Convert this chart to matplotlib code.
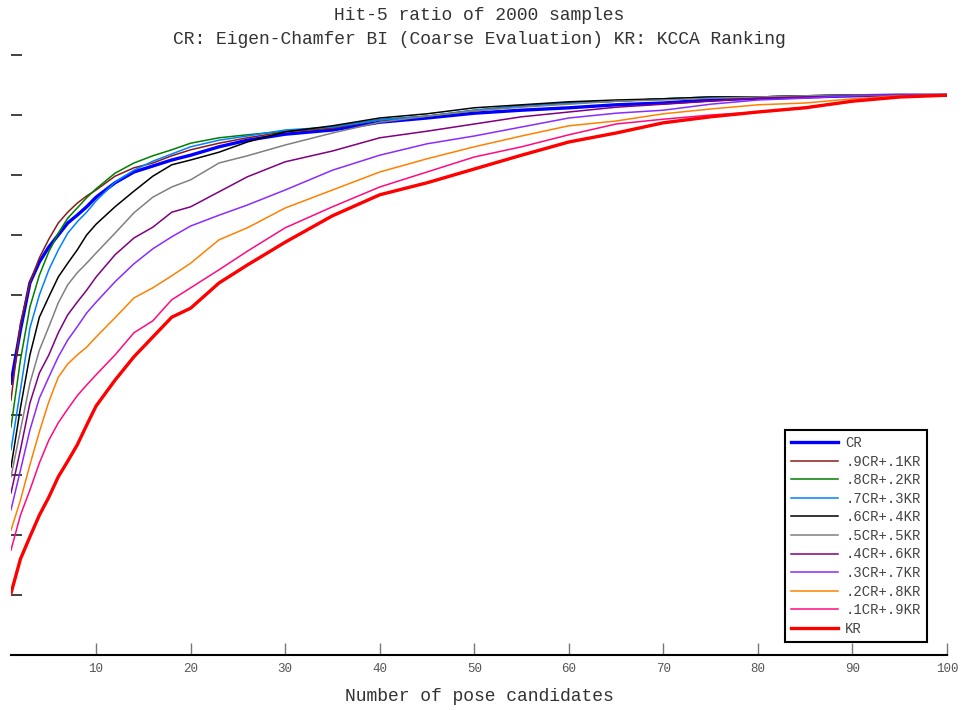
import matplotlib
matplotlib.use("Agg")
import matplotlib.pyplot as plt

# Number of pose candidates at which the curves were read
x_vals = [1, 2, 3, 4, 5, 6, 7, 8, 9, 10, 12, 14, 16, 18, 20, 23, 26, 30, 35, 40,
          45, 50, 55, 60, 65, 70, 75, 80, 85, 90, 95, 100]

cr = [0.453, 0.542, 0.620, 0.655, 0.680, 0.700, 0.720, 0.733, 0.747, 0.763, 0.787, 0.805,
      0.815, 0.825, 0.833, 0.847, 0.858, 0.868, 0.875, 0.888, 0.895, 0.903, 0.908, 0.912,
      0.917, 0.920, 0.925, 0.928, 0.930, 0.932, 0.933, 0.933]
cr9 = [0.425, 0.553, 0.620, 0.662, 0.693, 0.720, 0.738, 0.753, 0.765, 0.775, 0.798, 0.812,
       0.820, 0.832, 0.842, 0.853, 0.862, 0.872, 0.878, 0.892, 0.898, 0.907, 0.915, 0.920,
       0.923, 0.927, 0.928, 0.930, 0.932, 0.933, 0.933, 0.933]
cr8 = [0.380, 0.492, 0.580, 0.633, 0.672, 0.703, 0.728, 0.745, 0.762, 0.777, 0.803, 0.820,
       0.832, 0.842, 0.853, 0.862, 0.867, 0.873, 0.880, 0.892, 0.898, 0.908, 0.915, 0.920,
       0.923, 0.927, 0.930, 0.930, 0.932, 0.933, 0.933, 0.933]
cr7 = [0.342, 0.442, 0.545, 0.600, 0.642, 0.675, 0.703, 0.722, 0.738, 0.757, 0.788, 0.808,
       0.823, 0.835, 0.847, 0.858, 0.865, 0.875, 0.880, 0.892, 0.898, 0.908, 0.915, 0.920,
       0.923, 0.927, 0.930, 0.930, 0.932, 0.933, 0.933, 0.933]
cr6 = [0.313, 0.412, 0.500, 0.563, 0.597, 0.630, 0.653, 0.675, 0.700, 0.718, 0.747, 0.773,
       0.798, 0.817, 0.825, 0.838, 0.855, 0.872, 0.882, 0.895, 0.902, 0.912, 0.917, 0.922,
       0.925, 0.927, 0.930, 0.930, 0.932, 0.933, 0.933, 0.933]
cr5 = [0.297, 0.375, 0.453, 0.508, 0.547, 0.587, 0.617, 0.637, 0.653, 0.670, 0.703, 0.737,
       0.763, 0.780, 0.792, 0.820, 0.832, 0.850, 0.870, 0.888, 0.898, 0.907, 0.913, 0.918,
       0.923, 0.925, 0.928, 0.930, 0.932, 0.933, 0.933, 0.933]
cr4 = [0.270, 0.342, 0.420, 0.470, 0.500, 0.537, 0.567, 0.588, 0.608, 0.630, 0.667, 0.695,
       0.713, 0.738, 0.747, 0.772, 0.797, 0.822, 0.840, 0.862, 0.873, 0.885, 0.897, 0.905,
       0.913, 0.918, 0.923, 0.928, 0.930, 0.932, 0.933, 0.933]
cr3 = [0.242, 0.308, 0.375, 0.428, 0.463, 0.497, 0.525, 0.547, 0.570, 0.588, 0.622, 0.652,
       0.677, 0.697, 0.715, 0.733, 0.750, 0.775, 0.808, 0.833, 0.852, 0.865, 0.880, 0.895,
       0.903, 0.908, 0.918, 0.925, 0.928, 0.932, 0.933, 0.933]
cr2 = [0.208, 0.258, 0.317, 0.372, 0.422, 0.463, 0.485, 0.500, 0.513, 0.530, 0.562, 0.595,
       0.612, 0.632, 0.653, 0.692, 0.712, 0.745, 0.775, 0.805, 0.827, 0.847, 0.865, 0.882,
       0.890, 0.902, 0.910, 0.917, 0.920, 0.927, 0.932, 0.933]
cr1 = [0.175, 0.233, 0.275, 0.320, 0.358, 0.387, 0.410, 0.432, 0.450, 0.467, 0.500, 0.537,
       0.557, 0.592, 0.612, 0.642, 0.673, 0.712, 0.747, 0.780, 0.805, 0.830, 0.847, 0.867,
       0.885, 0.893, 0.900, 0.905, 0.913, 0.923, 0.930, 0.933]
kr = [0.103, 0.160, 0.197, 0.233, 0.263, 0.297, 0.323, 0.350, 0.383, 0.415, 0.458, 0.497,
      0.530, 0.563, 0.578, 0.620, 0.650, 0.688, 0.732, 0.767, 0.787, 0.810, 0.833, 0.855,
      0.870, 0.887, 0.897, 0.905, 0.912, 0.923, 0.930, 0.933]

series = [cr, cr9, cr8, cr7, cr6, cr5, cr4, cr3, cr2, cr1, kr]
labels = ["CR", ".9CR+.1KR", ".8CR+.2KR", ".7CR+.3KR", ".6CR+.4KR", ".5CR+.5KR",
          ".4CR+.6KR", ".3CR+.7KR", ".2CR+.8KR", ".1CR+.9KR", "KR"]
colors = ["#0000FF", "#8B1A1A", "#007F00", "#0080FF", "#000000", "#808080",
          "#800080", "#8A2BFF", "#FF8000", "#FF0A80", "#FF0000"]
widths = [2.4, 1.1, 1.1, 1.1, 1.1, 1.1, 1.1, 1.1, 1.1, 1.1, 2.4]

x_ticks = [10, 20, 30, 40, 50, 60, 70, 80, 90, 100]
y_ticks = [0.1, 0.2, 0.3, 0.4, 0.5, 0.6, 0.7, 0.8, 0.9, 1.0]

MONO = ["Liberation Mono", "DejaVu Sans Mono"]

fig = plt.figure(figsize=(9.68, 7.10), dpi=100)
ax = fig.add_axes([11 / 968, (710 - 655) / 710, (947 - 11) / 968, 600 / 710])

for s, lab, c, w in zip(series, labels, colors, widths):
    ax.plot(x_vals, s, color=c, lw=w, label=lab)

ax.set_xlim(1, 100)
ax.set_ylim(0, 1)
ax.set_xticks(x_ticks)
ax.set_xticklabels([str(t) for t in x_ticks], family=MONO, fontsize=9, color="#555555")
ax.set_yticks(y_ticks)
ax.set_yticklabels([])
ax.tick_params(axis="x", direction="in", length=9, width=1, color="#777777", pad=6)
ax.tick_params(axis="y", direction="in", length=8, width=1.3, color="#333333")
for side in ["top", "right", "left"]:
    ax.spines[side].set_visible(False)
ax.spines["bottom"].set_linewidth(1.5)

ax.set_xlabel("Number of pose candidates", family=MONO, fontsize=13, color="#333333",
              labelpad=9)
ax.set_title("Hit-5 ratio of 2000 samples\nCR: Eigen-Chamfer BI (Coarse Evaluation) KR: KCCA Ranking",
             family=MONO, fontsize=13, color="#333333", pad=8, linespacing=1.5)

leg = ax.legend(loc="lower right", bbox_to_anchor=(927 / 968, (710 - 642) / 710),
                bbox_transform=fig.transFigure, borderaxespad=0, fancybox=False,
                prop={"family": MONO, "size": 10}, handlelength=3.4, handletextpad=0.5,
                labelspacing=0.33, borderpad=0.45, framealpha=1)
leg.get_frame().set_edgecolor("black")
leg.get_frame().set_linewidth(1.5)
for t in leg.get_texts():
    t.set_color("#444444")

fig.savefig("out.png", dpi=100)
